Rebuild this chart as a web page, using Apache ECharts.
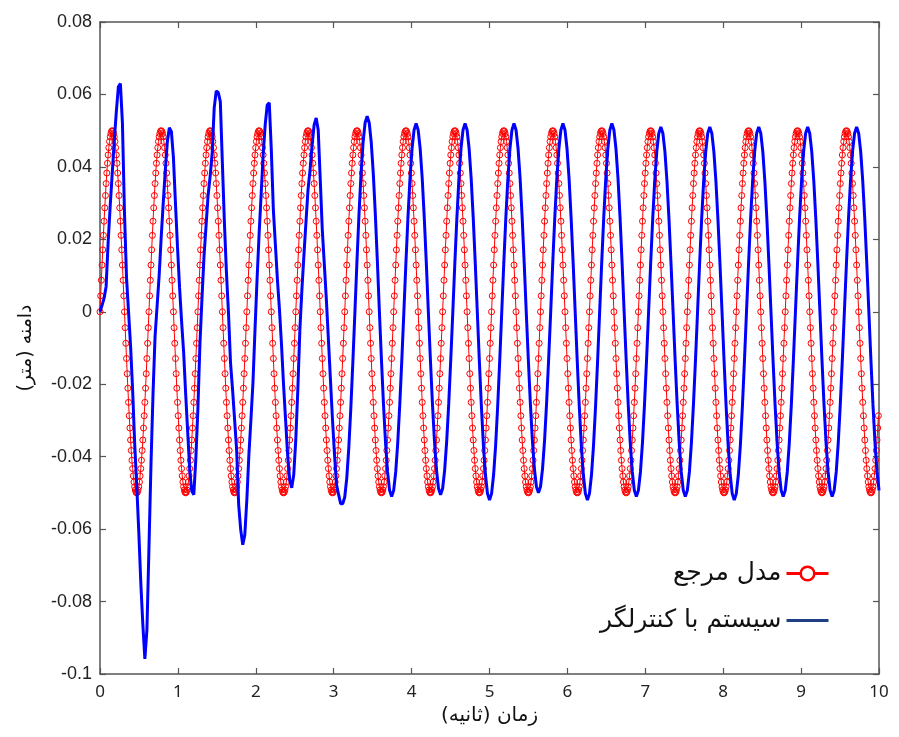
<!DOCTYPE html>
<html>
<head>
<meta charset="utf-8">
<script src="https://cdn.jsdelivr.net/npm/echarts@6/dist/echarts.min.js"></script>
<style>
html,body{margin:0;padding:0;background:#fff;}
#chart{width:899px;height:737px;}
</style>
</head>
<body>
<div id="chart"></div>
<script>
// Sampling steps (seconds) of the two recorded signals
const redStep = Math.PI / 360;   // reference model samples
const blueStep = Math.PI / 120;  // controlled system samples

const xTicks = [0, 1, 2, 3, 4, 5, 6, 7, 8, 9, 10];
const yTicks = [-0.1, -0.08, -0.06, -0.04, -0.02, 0, 0.02, 0.04, 0.06, 0.08];

const seriesNames = ['مدل مرجع', 'سیستم با کنترلگر'];

// Reference model output (m)
const refModel = [
0,.0044,.0087,.0129,.0171,.0211,.025,.0287,.0321,.0354,.0383,.041,.0433,.0453,.047,.0483,.0492,.0498,.05,.0498,.0492,.0483,.047,.0453,.0433,.041,.0383,.0354,.0321,.0287,.025,.0211,.0171,.0129,.0087,.0044,0,-.0044,-.0087,-.0129,-.0171,-.0211,-.025,-.0287,-.0321,-.0354,-.0383,-.041,-.0433,-.0453,-.047,-.0483,-.0492,-.0498,-.05,-.0498,-.0492,-.0483,-.047,-.0453,-.0433,-.041,-.0383,-.0354,-.0321,-.0287,-.025,-.0211,-.0171,-.0129,-.0087,-.0044,
0,.0044,.0087,.0129,.0171,.0211,.025,.0287,.0321,.0354,.0383,.041,.0433,.0453,.047,.0483,.0492,.0498,.05,.0498,.0492,.0483,.047,.0453,.0433,.041,.0383,.0354,.0321,.0287,.025,.0211,.0171,.0129,.0087,.0044,0,-.0044,-.0087,-.0129,-.0171,-.0211,-.025,-.0287,-.0321,-.0354,-.0383,-.041,-.0433,-.0453,-.047,-.0483,-.0492,-.0498,-.05,-.0498,-.0492,-.0483,-.047,-.0453,-.0433,-.041,-.0383,-.0354,-.0321,-.0287,-.025,-.0211,-.0171,-.0129,-.0087,-.0044,
0,.0044,.0087,.0129,.0171,.0211,.025,.0287,.0321,.0354,.0383,.041,.0433,.0453,.047,.0483,.0492,.0498,.05,.0498,.0492,.0483,.047,.0453,.0433,.041,.0383,.0354,.0321,.0287,.025,.0211,.0171,.0129,.0087,.0044,0,-.0044,-.0087,-.0129,-.0171,-.0211,-.025,-.0287,-.0321,-.0354,-.0383,-.041,-.0433,-.0453,-.047,-.0483,-.0492,-.0498,-.05,-.0498,-.0492,-.0483,-.047,-.0453,-.0433,-.041,-.0383,-.0354,-.0321,-.0287,-.025,-.0211,-.0171,-.0129,-.0087,-.0044,
0,.0044,.0087,.0129,.0171,.0211,.025,.0287,.0321,.0354,.0383,.041,.0433,.0453,.047,.0483,.0492,.0498,.05,.0498,.0492,.0483,.047,.0453,.0433,.041,.0383,.0354,.0321,.0287,.025,.0211,.0171,.0129,.0087,.0044,0,-.0044,-.0087,-.0129,-.0171,-.0211,-.025,-.0287,-.0321,-.0354,-.0383,-.041,-.0433,-.0453,-.047,-.0483,-.0492,-.0498,-.05,-.0498,-.0492,-.0483,-.047,-.0453,-.0433,-.041,-.0383,-.0354,-.0321,-.0287,-.025,-.0211,-.0171,-.0129,-.0087,-.0044,
0,.0044,.0087,.0129,.0171,.0211,.025,.0287,.0321,.0354,.0383,.041,.0433,.0453,.047,.0483,.0492,.0498,.05,.0498,.0492,.0483,.047,.0453,.0433,.041,.0383,.0354,.0321,.0287,.025,.0211,.0171,.0129,.0087,.0044,0,-.0044,-.0087,-.0129,-.0171,-.0211,-.025,-.0287,-.0321,-.0354,-.0383,-.041,-.0433,-.0453,-.047,-.0483,-.0492,-.0498,-.05,-.0498,-.0492,-.0483,-.047,-.0453,-.0433,-.041,-.0383,-.0354,-.0321,-.0287,-.025,-.0211,-.0171,-.0129,-.0087,-.0044,
0,.0044,.0087,.0129,.0171,.0211,.025,.0287,.0321,.0354,.0383,.041,.0433,.0453,.047,.0483,.0492,.0498,.05,.0498,.0492,.0483,.047,.0453,.0433,.041,.0383,.0354,.0321,.0287,.025,.0211,.0171,.0129,.0087,.0044,0,-.0044,-.0087,-.0129,-.0171,-.0211,-.025,-.0287,-.0321,-.0354,-.0383,-.041,-.0433,-.0453,-.047,-.0483,-.0492,-.0498,-.05,-.0498,-.0492,-.0483,-.047,-.0453,-.0433,-.041,-.0383,-.0354,-.0321,-.0287,-.025,-.0211,-.0171,-.0129,-.0087,-.0044,
0,.0044,.0087,.0129,.0171,.0211,.025,.0287,.0321,.0354,.0383,.041,.0433,.0453,.047,.0483,.0492,.0498,.05,.0498,.0492,.0483,.047,.0453,.0433,.041,.0383,.0354,.0321,.0287,.025,.0211,.0171,.0129,.0087,.0044,0,-.0044,-.0087,-.0129,-.0171,-.0211,-.025,-.0287,-.0321,-.0354,-.0383,-.041,-.0433,-.0453,-.047,-.0483,-.0492,-.0498,-.05,-.0498,-.0492,-.0483,-.047,-.0453,-.0433,-.041,-.0383,-.0354,-.0321,-.0287,-.025,-.0211,-.0171,-.0129,-.0087,-.0044,
0,.0044,.0087,.0129,.0171,.0211,.025,.0287,.0321,.0354,.0383,.041,.0433,.0453,.047,.0483,.0492,.0498,.05,.0498,.0492,.0483,.047,.0453,.0433,.041,.0383,.0354,.0321,.0287,.025,.0211,.0171,.0129,.0087,.0044,0,-.0044,-.0087,-.0129,-.0171,-.0211,-.025,-.0287,-.0321,-.0354,-.0383,-.041,-.0433,-.0453,-.047,-.0483,-.0492,-.0498,-.05,-.0498,-.0492,-.0483,-.047,-.0453,-.0433,-.041,-.0383,-.0354,-.0321,-.0287,-.025,-.0211,-.0171,-.0129,-.0087,-.0044,
0,.0044,.0087,.0129,.0171,.0211,.025,.0287,.0321,.0354,.0383,.041,.0433,.0453,.047,.0483,.0492,.0498,.05,.0498,.0492,.0483,.047,.0453,.0433,.041,.0383,.0354,.0321,.0287,.025,.0211,.0171,.0129,.0087,.0044,0,-.0044,-.0087,-.0129,-.0171,-.0211,-.025,-.0287,-.0321,-.0354,-.0383,-.041,-.0433,-.0453,-.047,-.0483,-.0492,-.0498,-.05,-.0498,-.0492,-.0483,-.047,-.0453,-.0433,-.041,-.0383,-.0354,-.0321,-.0287,-.025,-.0211,-.0171,-.0129,-.0087,-.0044,
0,.0044,.0087,.0129,.0171,.0211,.025,.0287,.0321,.0354,.0383,.041,.0433,.0453,.047,.0483,.0492,.0498,.05,.0498,.0492,.0483,.047,.0453,.0433,.041,.0383,.0354,.0321,.0287,.025,.0211,.0171,.0129,.0087,.0044,0,-.0044,-.0087,-.0129,-.0171,-.0211,-.025,-.0287,-.0321,-.0354,-.0383,-.041,-.0433,-.0453,-.047,-.0483,-.0492,-.0498,-.05,-.0498,-.0492,-.0483,-.047,-.0453,-.0433,-.041,-.0383,-.0354,-.0321,-.0287,-.025,-.0211,-.0171,-.0129,-.0087,-.0044,
0,.0044,.0087,.0129,.0171,.0211,.025,.0287,.0321,.0354,.0383,.041,.0433,.0453,.047,.0483,.0492,.0498,.05,.0498,.0492,.0483,.047,.0453,.0433,.041,.0383,.0354,.0321,.0287,.025,.0211,.0171,.0129,.0087,.0044,0,-.0044,-.0087,-.0129,-.0171,-.0211,-.025,-.0287,-.0321,-.0354,-.0383,-.041,-.0433,-.0453,-.047,-.0483,-.0492,-.0498,-.05,-.0498,-.0492,-.0483,-.047,-.0453,-.0433,-.041,-.0383,-.0354,-.0321,-.0287,-.025,-.0211,-.0171,-.0129,-.0087,-.0044,
0,.0044,.0087,.0129,.0171,.0211,.025,.0287,.0321,.0354,.0383,.041,.0433,.0453,.047,.0483,.0492,.0498,.05,.0498,.0492,.0483,.047,.0453,.0433,.041,.0383,.0354,.0321,.0287,.025,.0211,.0171,.0129,.0087,.0044,0,-.0044,-.0087,-.0129,-.0171,-.0211,-.025,-.0287,-.0321,-.0354,-.0383,-.041,-.0433,-.0453,-.047,-.0483,-.0492,-.0498,-.05,-.0498,-.0492,-.0483,-.047,-.0453,-.0433,-.041,-.0383,-.0354,-.0321,-.0287,-.025,-.0211,-.0171,-.0129,-.0087,-.0044,
0,.0044,.0087,.0129,.0171,.0211,.025,.0287,.0321,.0354,.0383,.041,.0433,.0453,.047,.0483,.0492,.0498,.05,.0498,.0492,.0483,.047,.0453,.0433,.041,.0383,.0354,.0321,.0287,.025,.0211,.0171,.0129,.0087,.0044,0,-.0044,-.0087,-.0129,-.0171,-.0211,-.025,-.0287,-.0321,-.0354,-.0383,-.041,-.0433,-.0453,-.047,-.0483,-.0492,-.0498,-.05,-.0498,-.0492,-.0483,-.047,-.0453,-.0433,-.041,-.0383,-.0354,-.0321,-.0287,-.025,-.0211,-.0171,-.0129,-.0087,-.0044,
0,.0044,.0087,.0129,.0171,.0211,.025,.0287,.0321,.0354,.0383,.041,.0433,.0453,.047,.0483,.0492,.0498,.05,.0498,.0492,.0483,.047,.0453,.0433,.041,.0383,.0354,.0321,.0287,.025,.0211,.0171,.0129,.0087,.0044,0,-.0044,-.0087,-.0129,-.0171,-.0211,-.025,-.0287,-.0321,-.0354,-.0383,-.041,-.0433,-.0453,-.047,-.0483,-.0492,-.0498,-.05,-.0498,-.0492,-.0483,-.047,-.0453,-.0433,-.041,-.0383,-.0354,-.0321,-.0287,-.025,-.0211,-.0171,-.0129,-.0087,-.0044,
0,.0044,.0087,.0129,.0171,.0211,.025,.0287,.0321,.0354,.0383,.041,.0433,.0453,.047,.0483,.0492,.0498,.05,.0498,.0492,.0483,.047,.0453,.0433,.041,.0383,.0354,.0321,.0287,.025,.0211,.0171,.0129,.0087,.0044,0,-.0044,-.0087,-.0129,-.0171,-.0211,-.025,-.0287,-.0321,-.0354,-.0383,-.041,-.0433,-.0453,-.047,-.0483,-.0492,-.0498,-.05,-.0498,-.0492,-.0483,-.047,-.0453,-.0433,-.041,-.0383,-.0354,-.0321,-.0287,-.025,-.0211,-.0171,-.0129,-.0087,-.0044,
0,.0044,.0087,.0129,.0171,.0211,.025,.0287,.0321,.0354,.0383,.041,.0433,.0453,.047,.0483,.0492,.0498,.05,.0498,.0492,.0483,.047,.0453,.0433,.041,.0383,.0354,.0321,.0287,.025,.0211,.0171,.0129,.0087,.0044,0,-.0044,-.0087,-.0129,-.0171,-.0211,-.025,-.0287,-.0321,-.0354,-.0383,-.041,-.0433,-.0453,-.047,-.0483,-.0492,-.0498,-.05,-.0498,-.0492,-.0483,-.047,-.0453,-.0433,-.041,-.0383,-.0354,-.0321,-.0287
];

// Controlled system output (m)
const systemOut = [
0,.0018,.0037,.007,.0193,.0292,.0382,.0472,.0552,.0621,
.063,.0521,.0274,.0095,0,-.0095,-.0216,-.0363,-.0479,-.0605,
-.0747,-.0863,-.0958,-.0879,-.0653,-.0421,-.0226,-.0068,.0016,.010,
.0205,.03,.0389,.0468,.0508,.0498,.0426,.03,.0179,.0068,
-.0026,-.0111,-.0226,-.0332,-.0437,-.0495,-.0505,-.0405,-.0268,-.0089,
.0037,.0153,.0237,.0321,.0374,.0437,.0563,.061,.0605,.058,
.0411,.0246,.0108,-.0003,-.0141,-.0215,-.0298,-.0381,-.0533,-.0602,
-.0643,-.0616,-.0519,-.0395,-.0298,-.0196,-.005,.0088,.0213,.0323,
.0433,.0516,.0571,.0577,.0447,.0282,.0185,.0088,.0006,-.0091,
-.0201,-.0298,-.0395,-.0464,-.0486,-.045,-.0353,-.0215,-.005,.0061,
.0157,.0248,.0337,.0392,.0461,.0516,.0535,.0502,.0364,.0226,
.013,.0033,-.0077,-.0188,-.0298,-.0395,-.0478,-.0505,-.053,-.053,
-.0512,-.0459,-.0375,-.0265,-.0137,0,
.014,.027,.0382,.0468,.0522,.054,.0522,.0468,.0382,.027,.014,0,
-.0132,-.0255,-.0361,-.0442,-.0493,-.051,-.0493,-.0442,-.0361,-.0255,-.0132,0,
.0135,.026,.0368,.045,.0502,.052,.0502,.045,.0368,.026,.0135,0,
-.0131,-.0253,-.0357,-.0437,-.0488,-.0505,-.0488,-.0437,-.0357,-.0253,-.0131,0,
.0135,.026,.0368,.045,.0502,.052,.0502,.045,.0368,.026,.0135,0,
-.0135,-.026,-.0368,-.045,-.0502,-.052,-.0502,-.045,-.0368,-.026,-.0135,0,
.0135,.026,.0368,.045,.0502,.052,.0502,.045,.0368,.026,.0135,0,
-.0129,-.025,-.0354,-.0433,-.0483,-.05,-.0483,-.0433,-.0354,-.025,-.0129,0,
.0135,.026,.0368,.045,.0502,.052,.0502,.045,.0368,.026,.0135,0,
-.0135,-.026,-.0368,-.045,-.0502,-.052,-.0502,-.045,-.0368,-.026,-.0135,0,
.0135,.026,.0368,.045,.0502,.052,.0502,.045,.0368,.026,.0135,0,
-.0132,-.0255,-.0361,-.0442,-.0493,-.051,-.0493,-.0442,-.0361,-.0255,-.0132,0,
.0132,.0255,.0361,.0442,.0493,.051,.0493,.0442,.0361,.0255,.0132,0,
-.0132,-.0255,-.0361,-.0442,-.0493,-.051,-.0493,-.0442,-.0361,-.0255,-.0132,0,
.0132,.0255,.0361,.0442,.0493,.051,.0493,.0442,.0361,.0255,.0132,0,
-.0135,-.026,-.0368,-.045,-.0502,-.052,-.0502,-.045,-.0368,-.026,-.0135,0,
.0132,.0255,.0361,.0442,.0493,.051,.0493,.0442,.0361,.0255,.0132,0,
-.0132,-.0255,-.0361,-.0442,-.0493,-.051,-.0493,-.0442,-.0361,-.0255,-.0132,0,
.0132,.0255,.0361,.0442,.0493,.051,.0493,.0442,.0361,.0255,.0132,0,
-.0132,-.0255,-.0361,-.0442,-.0493,-.051,-.0493,-.0442,-.0361,-.0255,-.0132,0,
.0132,.0255,.0361,.0442,.0493,.051,.0493,.0442,.0361,.0255,.0132,0,
-.0132,-.0255,-.0361,-.0442,-.0493
];

const xMin = xTicks[0], xMax = xTicks[xTicks.length - 1], xInt = xTicks[1] - xTicks[0];
const yMin = yTicks[0], yMax = yTicks[yTicks.length - 1], yInt = 0.02;

const redData = refModel.map((v, k) => [k * redStep, v]);
const blueData = systemOut.map((v, k) => [k * blueStep, v]);

const axisCol = '#555';
const chart = echarts.init(document.getElementById('chart'), null, {renderer: 'canvas'});

const xBase = {
  type: 'value', min: xMin, max: xMax, interval: xInt,
  axisLine: {show: true, onZero: false, lineStyle: {color: axisCol, width: 1.5}},
  axisTick: {show: true, inside: true, length: 6, lineStyle: {color: axisCol, width: 1.2}},
  splitLine: {show: false}
};
const yBase = {
  type: 'value', min: yMin, max: yMax, interval: yInt,
  axisLine: {show: true, onZero: false, lineStyle: {color: axisCol, width: 1.5}},
  axisTick: {show: true, inside: true, length: 6, lineStyle: {color: axisCol, width: 1.2}},
  splitLine: {show: false}
};

chart.setOption({
  animation: false,
  backgroundColor: '#fff',
  grid: {left: 100, right: 20, top: 22, bottom: 63, containLabel: false},
  legend: {
    orient: 'vertical', right: 64, top: 556, align: 'right',
    itemWidth: 42, itemHeight: 17, itemGap: 22,
    textStyle: {fontSize: 25, color: '#111', fontFamily: 'DejaVu Sans'},
    data: [
      {name: seriesNames[0], itemStyle: {color: '#fff', borderColor: '#ff0000', borderWidth: 2.5}, lineStyle: {color: '#ff0000', width: 3}},
      {name: seriesNames[1], itemStyle: {opacity: 0, color: '#fff', borderWidth: 0}, lineStyle: {color: '#1f3f85', width: 3}}
    ]
  },
  xAxis: [
    Object.assign({}, xBase, {
      position: 'bottom',
      axisLabel: {show: true, margin: 10, fontSize: 17, color: '#222', fontFamily: 'Noto Sans'},
      name: 'زمان (ثانیه)', nameLocation: 'middle', nameGap: 30,
      nameTextStyle: {fontSize: 20, color: '#111', fontFamily: 'DejaVu Sans'}
    }),
    Object.assign({}, xBase, {position: 'top', axisLabel: {show: false}})
  ],
  yAxis: [
    Object.assign({}, yBase, {
      position: 'left',
      axisLabel: {show: true, margin: 8, fontSize: 18, color: '#222', fontFamily: 'Liberation Sans'},
      name: 'دامنه (متر)', nameLocation: 'middle', nameGap: 64,
      nameTextStyle: {fontSize: 19, color: '#111', fontFamily: 'DejaVu Sans'}
    }),
    Object.assign({}, yBase, {position: 'right', axisLabel: {show: false}})
  ],
  series: [
    {
      name: seriesNames[0], type: 'line', xAxisIndex: 0, yAxisIndex: 0,
      data: redData, symbol: 'circle', symbolSize: 6, showSymbol: true,
      lineStyle: {color: '#ff0000', width: 1},
      itemStyle: {color: 'rgba(255,255,255,0)', borderColor: '#ff0000', borderWidth: 1},
      emphasis: {disabled: true}, z: 2
    },
    {
      name: seriesNames[1], type: 'line', xAxisIndex: 0, yAxisIndex: 0,
      data: blueData, symbol: 'none', showSymbol: false,
      lineStyle: {color: '#0000ff', width: 3},
      itemStyle: {color: '#0000ff'},
      emphasis: {disabled: true}, z: 3
    }
  ]
});
</script>
</body>
</html>
